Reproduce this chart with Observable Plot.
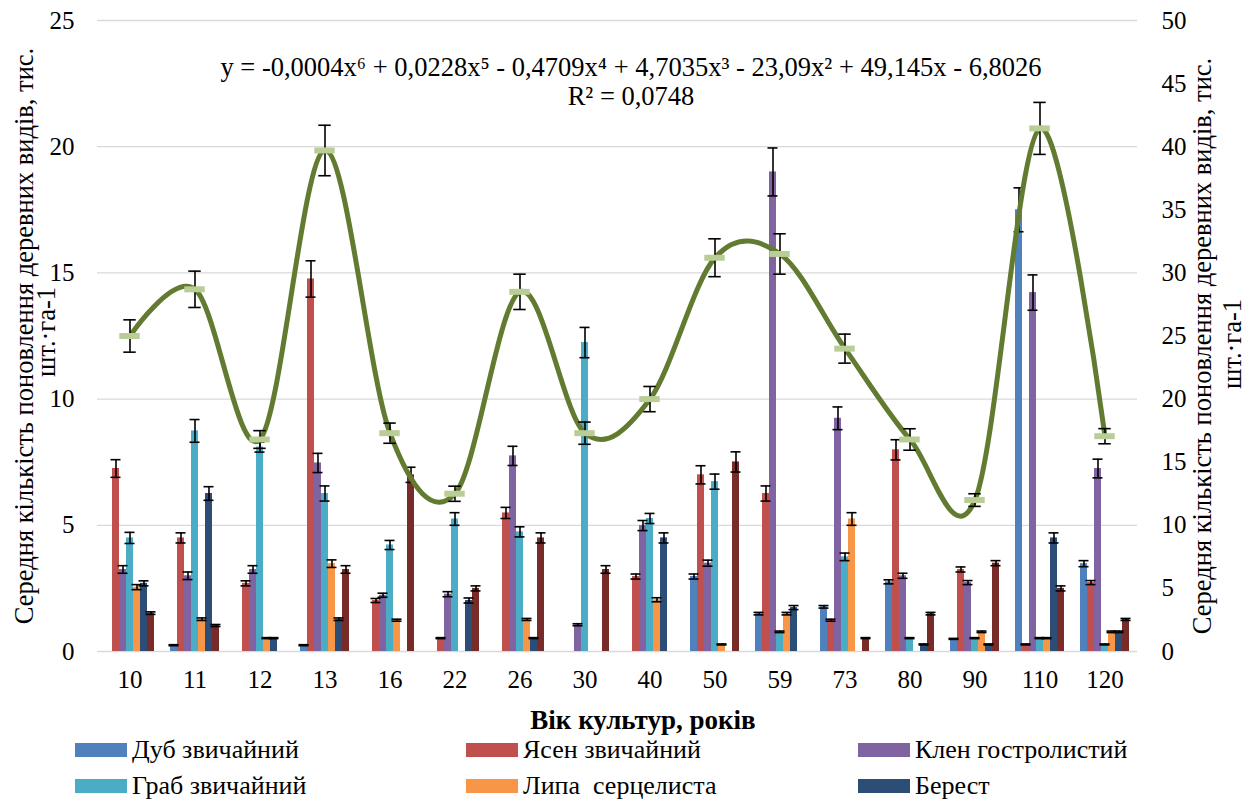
<!DOCTYPE html>
<html><head><meta charset="utf-8">
<script src="https://cdn.jsdelivr.net/npm/d3@7"></script>
<script src="https://cdn.jsdelivr.net/npm/@observablehq/plot@0.6"></script>
<style>
body{margin:0;background:#fff;font-family:'Liberation Serif','Times New Roman',serif;}
#wrap{position:relative;width:1255px;height:803px;overflow:hidden;background:#fff;}
#a,#b{position:absolute;left:0;top:0;}
#a svg text,#b svg text{font-family:'Liberation Serif','Times New Roman',serif;}
#xt{position:absolute;left:443px;width:400px;top:704px;text-align:center;font-weight:bold;font-size:27px;line-height:32px;}
.lg{position:absolute;font-size:26px;line-height:30px;white-space:pre;display:flex;align-items:center;}
.sw{display:inline-block;width:52px;height:14px;margin-right:5px;}
</style></head>
<body><div id="wrap"><div id="a"></div><div id="b"></div><div id="xt">Вік культур, років</div><div id="legend"></div></div>
<script>
// ---- data ----
const ages = ["10","11","12","13","16","22","26","30","40","50","59","73","80","90","110","120"];
const speciesNames = ["Дуб звичайний","Ясен звичайний","Клен гостролистий","Граб звичайний","Липа  серцелиста","Берест","Інші види"];
const legendNames = ["Дуб звичайний","Ясен звичайний","Клен гостролистий","Граб звичайний","Липа  серцелиста","Берест"];
const colors = ["#4F81BD","#C0504D","#8064A2","#4BACC6","#F79646","#2C4D75","#772C2A"];

const dub      = [0, 0.25, 0, 0.25, 0, 0, 0, 0, 0, 2.97, 1.5, 1.77, 2.76, 0.5, 17.5, 3.48];
const dubErr   = [0, 0.02, 0, 0.02, 0, 0, 0, 0, 0, 0.1, 0.05, 0.05, 0.08, 0.02, 0.87, 0.12];
const yasen    = [7.25, 4.5, 2.7, 14.76, 2.02, 0.53, 5.49, 0, 2.97, 7.0, 6.26, 1.24, 7.99, 3.25, 0.28, 2.73];
const yasenErr = [0.35, 0.2, 0.1, 0.72, 0.08, 0.02, 0.22, 0, 0.1, 0.36, 0.3, 0.04, 0.4, 0.1, 0.02, 0.08];
const klen     = [3.25, 3.0, 3.25, 7.47, 2.23, 2.27, 7.75, 1.06, 4.99, 3.5, 19.0, 9.24, 3.0, 2.73, 14.22, 7.25];
const klenErr  = [0.15, 0.15, 0.15, 0.38, 0.08, 0.1, 0.38, 0.04, 0.2, 0.12, 0.95, 0.45, 0.1, 0.08, 0.7, 0.37];
const hrab     = [4.5, 8.74, 8.1, 6.26, 4.22, 5.25, 4.74, 12.24, 5.27, 6.73, 0.78, 3.75, 0.53, 0.53, 0.53, 0.28];
const hrabErr  = [0.22, 0.45, 0.2, 0.3, 0.18, 0.25, 0.2, 0.6, 0.2, 0.3, 0.03, 0.15, 0.02, 0.02, 0.02, 0.02];
const lypa     = [2.55, 1.28, 0.53, 3.48, 1.24, 0, 1.27, 0, 2.05, 0.28, 1.5, 5.25, 0, 0.78, 0.53, 0.78];
const lypaErr  = [0.1, 0.05, 0.02, 0.15, 0.04, 0, 0.04, 0, 0.08, 0.02, 0.05, 0.25, 0, 0.03, 0.02, 0.03];
const berest   = [2.7, 6.26, 0.53, 1.28, 0, 2.02, 0.53, 0, 4.5, 0, 1.74, 0, 0.28, 0.28, 4.5, 0.78];
const berestErr= [0.1, 0.27, 0.02, 0.05, 0, 0.1, 0.02, 0, 0.2, 0, 0.08, 0, 0.02, 0.02, 0.2, 0.03];
const inshi    = [1.52, 1.03, 0, 3.25, 7.0, 2.5, 4.5, 3.25, 0, 7.51, 0, 0.53, 1.5, 3.5, 2.5, 1.27];
const inshiErr = [0.05, 0.04, 0, 0.15, 0.3, 0.1, 0.2, 0.15, 0, 0.4, 0, 0.02, 0.05, 0.1, 0.1, 0.04];

const total    = [25.0, 28.7, 16.8, 39.7, 17.3, 12.5, 28.5, 17.3, 20.0, 31.2, 31.5, 24.0, 16.8, 12.0, 41.45, 17.06];
const totalErr = [1.28, 1.44, 0.7, 2.0, 0.8, 0.6, 1.4, 0.88, 1.0, 1.5, 1.6, 1.15, 0.85, 0.5, 2.06, 0.6];

const leftTicks = [0, 5, 10, 15, 20, 25];
const rightTicks = [0, 5, 10, 15, 20, 25, 30, 35, 40, 45, 50];
const equation = "y = -0,0004x⁶ + 0,0228x⁵ - 0,4709x⁴ + 4,7035x³ - 23,09x² + 49,145x - 6,8026";
const rSquared = "R² = 0,0748";
const yTitle1 = "Середня кількість поновлення деревних видів, тис.";
const yTitle2 = "шт.·га-1";

// ---- build tables ----
const seriesVals = [dub, yasen, klen, hrab, lypa, berest, inshi];
const seriesErrs = [dubErr, yasenErr, klenErr, hrabErr, lypaErr, berestErr, inshiErr];
const rows = [];
seriesVals.forEach((vals, si) => ages.forEach((a, i) => {
  if (vals[i] > 0) rows.push({age: a, species: speciesNames[si], value: vals[i], err: seriesErrs[si][i]});
}));
const errRows = rows.filter(d => d.err > 0);
const tot = ages.map((a, i) => ({age: a, total: total[i], err: totalErr[i]}));

const W = 1255, H = 700, MT = 20, MB = 49, ML = 92, MR = 114;
const FONT = "'Liberation Serif', 'Times New Roman', serif";
const BW = (W - ML - MR) / ages.length; // band width of one age group
const capIn = (BW - 13) / 2, markIn = (BW - 21) / 2;

const chartA = Plot.plot({
  width: W, height: H, marginTop: MT, marginBottom: MB, marginLeft: ML, marginRight: MR,
  style: {fontFamily: FONT, fontSize: "25px", color: "#000", background: "#fff"},
  fx: {domain: ages, padding: 0, label: null, axis: "bottom", tickSize: 0, tickPadding: 19},
  x: {domain: speciesNames, paddingInner: 0, paddingOuter: 1, axis: null},
  y: {domain: [0, 25], ticks: leftTicks, label: null, axis: "left", tickSize: 0, tickPadding: 23},
  color: {domain: speciesNames, range: colors},
  marks: [
    Plot.ruleY(leftTicks, {stroke: "#D9D9D9", strokeWidth: 1.3}),
    Plot.barY(rows, {fx: "age", x: "species", y: "value", fill: "species"}),
    Plot.ruleX(errRows, {fx: "age", x: "species", y1: d => d.value - d.err, y2: d => d.value + d.err, stroke: "#000", strokeWidth: 1.6}),
    Plot.tickY(errRows, {fx: "age", x: "species", y: d => d.value - d.err, stroke: "#000", strokeWidth: 1.6, insetLeft: -1.5, insetRight: -1.5}),
    Plot.tickY(errRows, {fx: "age", x: "species", y: d => d.value + d.err, stroke: "#000", strokeWidth: 1.6, insetLeft: -1.5, insetRight: -1.5})
  ]
});

const chartB = Plot.plot({
  width: W, height: H, marginTop: MT, marginBottom: MB, marginLeft: ML, marginRight: MR,
  style: {fontFamily: FONT, fontSize: "25px", color: "#000", background: "transparent"},
  x: {type: "band", domain: ages, padding: 0, axis: null},
  y: {domain: [0, 50], ticks: rightTicks, label: null, axis: "right", tickSize: 0, tickPadding: 20},
  marks: [
    Plot.line(tot, {x: "age", y: "total", curve: "cardinal", tension: 0, stroke: "#627B31", strokeWidth: 5}),
    Plot.ruleX(tot, {x: "age", y1: d => d.total - d.err, y2: d => d.total + d.err, stroke: "#000", strokeWidth: 1.6}),
    Plot.tickY(tot, {x: "age", y: d => d.total - d.err, stroke: "#000", strokeWidth: 1.6, insetLeft: capIn, insetRight: capIn}),
    Plot.tickY(tot, {x: "age", y: d => d.total + d.err, stroke: "#000", strokeWidth: 1.6, insetLeft: capIn, insetRight: capIn}),
    Plot.tickY(tot, {x: "age", y: "total", stroke: "#B9CD96", strokeWidth: 6, insetLeft: markIn, insetRight: markIn}),
    Plot.text([equation], {frameAnchor: "top", text: d => d, dx: 14, dy: 37, fontSize: 26.5}),
    Plot.text([rSquared], {frameAnchor: "top", text: d => d, dx: 14, dy: 66, fontSize: 26.5}),
    Plot.text([yTitle1], {frameAnchor: "left", text: d => d, rotate: -90, textAnchor: "middle", dx: -68, dy: 0, fontSize: 26.5}),
    Plot.text([yTitle2], {frameAnchor: "left", text: d => d, rotate: -90, textAnchor: "middle", dx: -46, dy: -4, fontSize: 26.5}),
    Plot.text([yTitle1], {frameAnchor: "right", text: d => d, rotate: -90, textAnchor: "middle", dx: 61, dy: 10, fontSize: 26.5}),
    Plot.text([yTitle2], {frameAnchor: "right", text: d => d, rotate: -90, textAnchor: "middle", dx: 91, dy: 8, fontSize: 26.5})
  ]
});

document.getElementById("a").append(chartA);
document.getElementById("b").append(chartB);

// legend (6 named series, 3 columns)
const lgPos = [[75, 735], [466, 735], [858, 735], [75, 771], [466, 771], [858, 771]];
const lg = document.getElementById("legend");
legendNames.forEach((name, i) => {
  const el = document.createElement("div");
  el.className = "lg";
  el.style.left = lgPos[i][0] + "px";
  el.style.top = lgPos[i][1] + "px";
  const sw = document.createElement("span");
  sw.className = "sw";
  sw.style.background = colors[speciesNames.indexOf(name)];
  el.append(sw, document.createTextNode(name));
  lg.append(el);
});
</script>
</body></html>
